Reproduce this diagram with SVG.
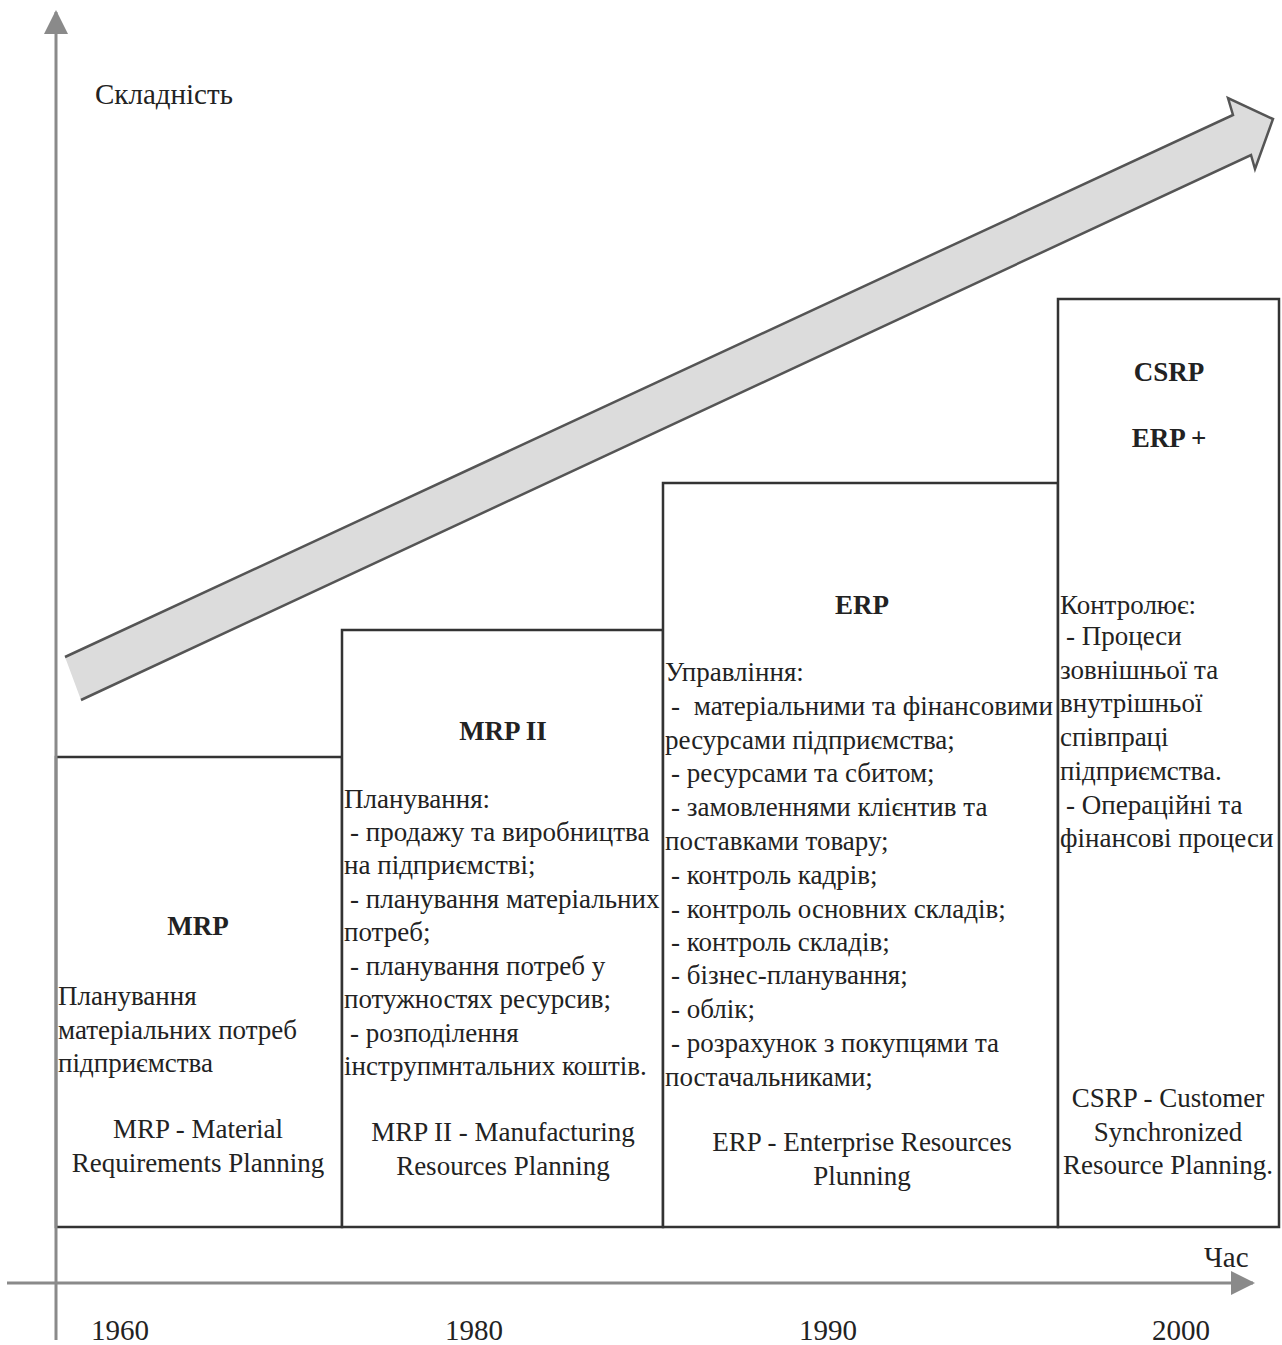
<svg xmlns="http://www.w3.org/2000/svg" width="1282" height="1345" viewBox="0 0 1282 1345">
  <style>
    text { font-family: "Liberation Serif", "Times New Roman", serif; font-size: 27px; fill: #222; }
    .ax { font-size: 29px; }
    .b { font-weight: bold; }
    .c { text-anchor: middle; }
    .box { fill: #fff; stroke: #333; stroke-width: 2.5; }
    .axis { stroke: #8a8a8a; stroke-width: 3; fill: none; }
  </style>
  <defs>
    <marker id="head" viewBox="0 0 24 24" refX="22" refY="12" markerWidth="24" markerHeight="24" markerUnits="userSpaceOnUse" orient="auto">
      <path d="M0,0 L24,12 L0,24 Z" fill="#8a8a8a"/>
    </marker>
  </defs>

  <!-- growth arrow -->
  <g id="trend">
    <polygon points="65,657 1233,115 1228,98 1273,119 1255,169 1251,155 81,700" fill="#dcdcdc"/>
    <polyline points="81,700 1251,155 1255,169 1273,119 1228,98 1233,115 65,657" fill="none" stroke="#555" stroke-width="2.5" stroke-linejoin="miter"/>
  </g>

  <!-- stages -->
  <g id="mrp">
    <rect class="box" x="56" y="757" width="286" height="470"/>
    <text class="b c" x="198" y="935">MRP</text>
    <text x="58" y="1005">Планування</text>
    <text x="58" y="1039">матеріальних потреб</text>
    <text x="58" y="1072">підприємства</text>
    <text class="c" x="198" y="1138">MRP - Material</text>
    <text class="c" x="198" y="1172">Requirements Planning</text>
  </g>

  <g id="mrp2">
    <rect class="box" x="342" y="630" width="321" height="597"/>
    <text class="b c" x="503" y="740">MRP II</text>
    <text x="344" y="808">Планування:</text>
    <text x="350" y="841">- продажу та виробництва</text>
    <text x="344" y="874">на підприємстві;</text>
    <text x="350" y="908">- планування матеріальних</text>
    <text x="344" y="941">потреб;</text>
    <text x="350" y="975">- планування потреб у</text>
    <text x="344" y="1008">потужностях ресурсив;</text>
    <text x="350" y="1042">- розподілення</text>
    <text x="344" y="1075">інструпмнтальних коштів.</text>
    <text class="c" x="503" y="1141">MRP II - Manufacturing</text>
    <text class="c" x="503" y="1175">Resources Planning</text>
  </g>

  <g id="erp">
    <rect class="box" x="663" y="483" width="395" height="744"/>
    <text class="b c" x="862" y="614">ERP</text>
    <text x="665" y="681">Управління:</text>
    <text x="671" y="715">- <tspan dx="7">матеріальними та фінансовими</tspan></text>
    <text x="665" y="749">ресурсами підприємства;</text>
    <text x="671" y="782">- ресурсами та сбитом;</text>
    <text x="671" y="816">- замовленнями клієнтив та</text>
    <text x="665" y="850">поставками товару;</text>
    <text x="671" y="884">- контроль кадрів;</text>
    <text x="671" y="918">- контроль основних складів;</text>
    <text x="671" y="951">- контроль складів;</text>
    <text x="671" y="984">- бізнес-планування;</text>
    <text x="671" y="1018">- облік;</text>
    <text x="671" y="1052">- розрахунок з покупцями та</text>
    <text x="665" y="1086">постачальниками;</text>
    <text class="c" x="862" y="1151">ERP - Enterprise Resources</text>
    <text class="c" x="862" y="1185">Plunning</text>
  </g>

  <g id="csrp">
    <rect class="box" x="1058" y="299" width="221" height="928"/>
    <text class="b c" x="1169" y="381">CSRP</text>
    <text class="b c" x="1169" y="447">ERP +</text>
    <text x="1060" y="614">Контролює:</text>
    <text x="1066" y="645">- Процеси</text>
    <text x="1060" y="679">зовнішньої та</text>
    <text x="1060" y="712">внутрішньої</text>
    <text x="1060" y="746">співпраці</text>
    <text x="1060" y="780">підприємства.</text>
    <text x="1066" y="814">- Операційні та</text>
    <text x="1060" y="847">фінансові процеси</text>
    <text class="c" x="1168" y="1107">CSRP - Customer</text>
    <text class="c" x="1168" y="1141">Synchronized</text>
    <text class="c" x="1168" y="1174">Resource Planning.</text>
  </g>

  <!-- axes -->
  <g id="axes">
    <line class="axis" x1="56" y1="1340" x2="56" y2="12" marker-end="url(#head)"/>
    <line class="axis" x1="7" y1="1283" x2="1253" y2="1283" marker-end="url(#head)"/>
    <text class="ax" x="95" y="104">Складність</text>
    <text class="ax" x="1204" y="1267">Час</text>
    <text class="ax c" x="120" y="1340">1960</text>
    <text class="ax c" x="474" y="1340">1980</text>
    <text class="ax c" x="828" y="1340">1990</text>
    <text class="ax c" x="1181" y="1340">2000</text>
  </g>
</svg>
